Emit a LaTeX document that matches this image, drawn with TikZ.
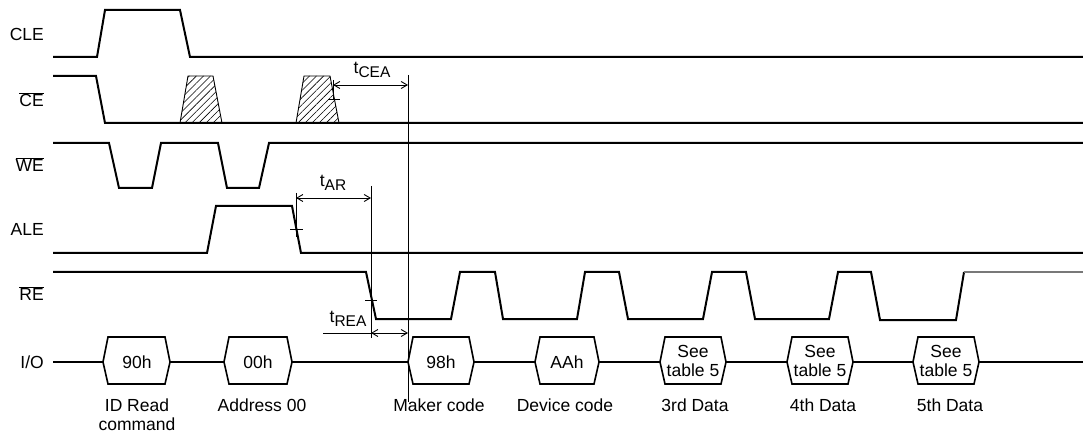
\documentclass[tikz,border=0pt]{standalone}
\usepackage{fontspec}
\setmainfont{Liberation Sans}
\usetikzlibrary{arrows.meta,patterns.meta}
\definecolor{sigblack}{RGB}{0,0,0}
\definecolor{tailgray}{RGB}{120,120,120}
\newcommand{\tlabel}[1]{t\raisebox{-0.4ex}{\fontsize{15.5}{15.5}\selectfont #1}}
\newcommand{\barsig}[1]{$\overline{\mbox{#1}}$}

\begin{document}
\begin{tikzpicture}[x=1pt,y=-1pt,
    sig/.style={sigblack,line width=2pt,line join=miter},
    tline/.style={sigblack,line width=0.9pt},
    dimarrow/.style={tline,{Straight Barb[length=6pt,width=7pt]}-{Straight Barb[length=6pt,width=7pt]}},
    bus/.style={sigblack,line width=1.6pt,fill=white,line join=miter},
    lbl/.style={font=\fontsize{17.5}{19}\selectfont,inner sep=0pt},
    hatch/.style={tline,pattern={Lines[angle=45,distance=5pt,line width=0.6pt]}}]
        \useasboundingbox (0,0) rectangle (1083,435);
        \node[lbl,anchor=base east] (clelbl) at (44,41) {CLE};
        \node[lbl,anchor=base east] (celbl) at (44,107) {\barsig{CE}};
        \node[lbl,anchor=base east] (welbl) at (44,172) {\barsig{WE}};
        \node[lbl,anchor=base east] (alelbl) at (44,236) {ALE};
        \node[lbl,anchor=base east] (relbl) at (44,301) {\barsig{RE}};
        \node[lbl,anchor=base east] (iolbl) at (44,368) {I/O};
        \draw[hatch] (180,123) -- (188,76) -- (213,76) -- (222,123);
        \draw[hatch] (296,123) -- (304,76) -- (330,76) -- (339,123);
        \draw[sig] (53,57) -- (97,57) -- (105,10) -- (180,10) -- (190,57) -- (1083,57);
        \draw[sig] (53,76) -- (96,76) -- (105,123) -- (1083,123);
        \draw[sig] (53,143) -- (109,143) -- (119,188) -- (152,188) -- (161,143) -- (218,143)
            -- (227,188) -- (259,188) -- (269,143) -- (1083,143);
        \draw[sig] (53,253) -- (207,253) -- (216,206) -- (292,206) -- (301,253) -- (1083,253);
        \draw[sig] (53,272) -- (366,272) -- (376,319) -- (451,319) -- (460,272) -- (495,272)
            -- (503,319) -- (577,319) -- (585,272) -- (619,272) -- (628,319) -- (703,319)
            -- (712,272) -- (746,272) -- (755,319) -- (829,319) -- (838,272) -- (871,272)
            -- (880,320) -- (956,320) -- (964,272);
        \draw[sig,tailgray] (964,272) -- (1083,272);
        \draw[sig] (53,362) -- (1083,362);
        \foreach \l/\r in {103/170,224/292,408/474,535/599,660/726,787/853,913/979}
            \draw[bus] (\l,362) -- (\l+5,337) -- (\r-5,337) -- (\r,362) -- (\r-5,384) -- (\l+5,384) -- cycle;
        \node[lbl] (d1) at (137,362) {90h};
        \node[lbl] (d2) at (258,362) {00h};
        \node[lbl] (d3) at (441,362) {98h};
        \node[lbl] (d4) at (567,362) {AAh};
        \node[lbl,align=center] (d5) at (693,361) {See\\table 5};
        \node[lbl,align=center] (d6) at (820,361) {See\\table 5};
        \node[lbl,align=center] (d7) at (946,361) {See\\table 5};
        \node[lbl,anchor=base,align=center] (c1) at (137,430) {ID Read\\command};
        \node[lbl,anchor=base] (c2) at (262,411) {Address 00};
        \node[lbl,anchor=base] (c3) at (439,411) {Maker code};
        \node[lbl,anchor=base] (c4) at (565,411) {Device code};
        \node[lbl,anchor=base] (c5) at (695,411) {3rd Data};
        \node[lbl,anchor=base] (c6) at (823,411) {4th Data};
        \node[lbl,anchor=base] (c7) at (950,411) {5th Data};
        \coordinate (ceatop) at (333,80);
        \coordinate (ceaend) at (333,100);
        \coordinate (maketop) at (408,75);
        \coordinate (makebot) at (408,402);
        \coordinate (artop) at (296,193);
        \coordinate (arend) at (296,237);
        \coordinate (reatop) at (371,186);
        \coordinate (reabot) at (371,338);
        \coordinate (reafree) at (323,333);
        \draw[tline] (ceatop) -- (ceaend);
        \draw[tline] (maketop) -- (makebot);
        \draw[tline] (artop) -- (arend);
        \draw[tline] (reatop) -- (reabot);
        \draw[tline] (328,99) -- (340,99);
        \draw[tline] (290,229) -- (303,229);
        \draw[tline] (365,300) -- (377,300);
        \draw[dimarrow] (ceatop |- 0,85) -- (maketop |- 0,85);
        \draw[dimarrow] (artop |- 0,198) -- (reatop |- 0,198);
        \draw[tline] (reafree) -- (reabot |- reafree);
        \draw[dimarrow] (reabot |- reafree) -- (makebot |- reafree);
        \node[lbl,anchor=base] (tcea) at (372,74) {\tlabel{CEA}};
        \node[lbl,anchor=base] (tar) at (333,187) {\tlabel{AR}};
        \node[lbl,anchor=base] (trea) at (348,323) {\tlabel{REA}};
      \end{tikzpicture}
\end{document}
